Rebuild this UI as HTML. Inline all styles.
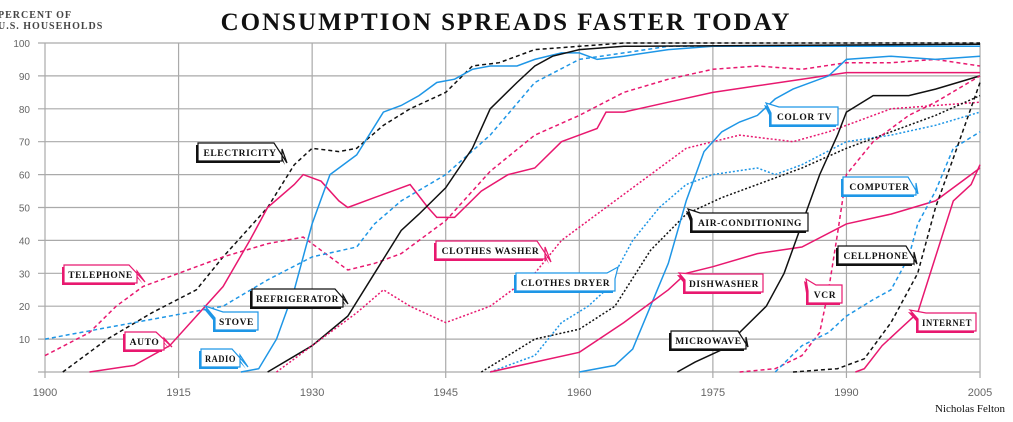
<!DOCTYPE html>
<html><head><meta charset="utf-8"><style>
html,body{margin:0;padding:0;background:#fff;width:1013px;height:422px;overflow:hidden}
svg text{font-family:"Liberation Serif",serif}
</style></head><body>
<svg id="s" width="1013" height="422" xmlns="http://www.w3.org/2000/svg">
<text x="506" y="30" text-anchor="middle" font-size="25" font-weight="bold" letter-spacing="2" fill="#111">CONSUMPTION SPREADS FASTER TODAY</text>
<text x="-2" y="18" font-size="10" font-weight="bold" fill="#444" letter-spacing="1">PERCENT OF</text>
<text x="-2" y="29" font-size="10" font-weight="bold" fill="#444" letter-spacing="1">U.S. HOUSEHOLDS</text>
<text x="1005" y="412" text-anchor="end" font-size="11" fill="#111">Nicholas Felton</text>
<g id="grid"></g><g id="ser"></g><g id="lab"></g>
</svg>
<script>
var NS="http://www.w3.org/2000/svg",s=document.getElementById('s');
function X(y){return 45+(y-1900)*8.905}function Y(v){return 372-v*3.29}
function el(t,a,p,txt){var e=document.createElementNS(NS,t);for(var k in a)e.setAttribute(k,a[k]);if(txt)e.textContent=txt;document.getElementById(p).appendChild(e);return e}
for(var v=0;v<=100;v+=10){el('line',{x1:38,x2:980,y1:Y(v),y2:Y(v),stroke:'#aaa','stroke-width':1.2},'grid');el('text',{x:30,y:Y(v)+4,'text-anchor':'end','font-size':10,fill:'#666',style:'font-family:Liberation Sans,sans-serif'},'grid',v)}
for(var y=1900;y<=2005;y+=15){el('line',{x1:X(y),x2:X(y),y1:43,y2:378,stroke:'#aaa','stroke-width':1.2},'grid');el('text',{x:X(y),y:396,'text-anchor':'middle','font-size':11,fill:'#666',style:'font-family:Liberation Sans,sans-serif'},'grid',y)}
var K='#111',B='#1e96e6',P='#e8186f';
var S=[
[K,'4 3',[1902,0,1907,10,1912,18,1917,25,1920,35,1925,50,1928,63,1930,68,1933,67,1935,68,1938,75,1941,80,1945,85,1948,93,1951,94,1955,98,1960,99,1965,100,2005,100]],
[P,'4 3',[1900,5,1905,12,1908,20,1911,26,1915,30,1920,35,1925,39,1929,41,1932,35,1934,31,1937,33,1940,36,1945,46,1950,61,1955,72,1960,78,1965,85,1970,89,1975,92,1980,93,1985,92,1990,94,1995,94,2000,95,2005,93]],
[B,'4 3',[1900,10,1910,15,1920,20,1925,28,1930,35,1935,38,1937,45,1940,52,1945,60,1950,72,1955,88,1960,95,1965,97,1970,99,2005,99]],
[P,'',[1905,0,1910,2,1914,8,1917,17,1920,26,1923,40,1925,50,1928,57,1929,60,1931,58,1933,52,1934,50,1937,53,1939,55,1941,57,1943,50,1944,47,1946,47,1949,55,1952,60,1955,62,1958,70,1960,72,1962,74,1963,79,1965,79,1970,82,1975,85,1980,87,1985,89,1990,91,2005,91]],
[B,'',[1922,0,1924,1,1926,10,1928,25,1930,45,1932,60,1935,66,1938,79,1940,81,1942,84,1944,88,1946,89,1948,92,1950,93,1953,93,1955,95,1958,97,1960,97,1962,95,1965,96,1970,98,1975,99,2005,99]],
[K,'',[1925,0,1930,8,1934,17,1937,30,1940,43,1942,48,1945,56,1948,68,1950,80,1953,88,1955,93,1957,96,1960,98,1965,99,2005,99.6]],
[P,'2 2',[1926,0,1930,8,1935,18,1938,25,1941,20,1945,15,1950,20,1955,30,1958,40,1963,50,1968,60,1972,68,1978,72,1984,70,1988,73,1991,76,1995,80,2005,82]],
[B,'2 2',[1950,0,1955,5,1958,15,1961,20,1963,25,1966,40,1969,50,1972,57,1975,60,1980,62,1982,60,1985,63,1990,70,1995,72,2000,75,2005,79]],
[K,'2 2',[1949,0,1952,5,1955,10,1960,13,1964,20,1968,37,1972,48,1976,53,1980,57,1985,62,1990,68,1995,73,2000,78,2005,84]],
[B,'',[1960,0,1964,2,1966,7,1968,20,1970,33,1972,52,1974,67,1976,73,1978,76,1980,78,1982,83,1984,86,1988,90,1990,95,1995,96,2000,95,2005,96]],
[P,'',[1950,0,1955,3,1960,6,1965,15,1970,25,1972,30,1975,32,1980,36,1985,38,1990,45,1995,48,2000,52,2005,62]],
[K,'',[1971,0,1973,3,1977,8,1978,12,1981,20,1983,30,1985,45,1987,60,1989,72,1990,79,1993,84,1997,84,2000,86,2005,90]],
[P,'4 3',[1978,0,1982,1,1985,5,1987,12,1988,25,1989,42,1990,60,1993,70,1997,78,2000,82,2005,90]],
[B,'4 3',[1982,0,1985,8,1988,12,1990,17,1993,22,1995,25,1997,35,1998,45,2000,55,2002,68,2005,73]],
[K,'4 3',[1984,0,1989,1,1992,4,1995,15,1998,30,2000,50,2002,65,2005,88]],
[P,'',[1991,0,1992,1,1994,8,1996,13,1998,18,2000,35,2002,52,2004,57,2005,63]]];
S.forEach(function(q){var d='';for(var i=0;i<q[2].length;i+=2)d+=(i?'L':'M')+X(q[2][i]).toFixed(1)+' '+Y(q[2][i+1]).toFixed(1);
el('path',{d:d,fill:'none',stroke:q[0],'stroke-width':1.5,'stroke-dasharray':q[1]},'ser')});
var L=[['ELECTRICITY',K,198,143,84,287,163],['TELEPHONE',P,64,265,73,145,282],['AUTO',P,125,332,39,172,347],['STOVE',B,215,312,43,205,306],['RADIO',B,201,349,39,248,367],['REFRIGERATOR',K,252,289,91,348,304],['CLOTHES WASHER',P,436,241,109,551,262],['CLOTHES DRYER',B,516,273,99,618,267],['AIR-CONDITIONING',K,692,213,116,688,209],['COLOR TV',B,771,107,67,766,103],['DISHWASHER',P,685,274,78,679,273],['MICROWAVE',K,671,331,75,748,347],['VCR',P,808,285,34,806,279],['COMPUTER',B,843,177,73,918,194],['CELLPHONE',K,838,246,76,917,264],['INTERNET',P,918,313,58,910,310]];
L.forEach(function(l){var x=l[2],y=l[3],w=l[4],h=18,px=l[5],py=l[6],c=l[1];
var left=px<x;var pts;
if(left){pts=[[x,y+6],[px,py],[x+8,y],[x+w,y],[x+w,y+h],[x,y+h]]}else{pts=[[x,y],[x+w-8,y],[px,py],[x+w,y+6],[x+w,y+h],[x,y+h]]}
var sp=pts.map(function(p){return (p[0]-2)+','+(p[1]+2)}).join(' ');
el('polygon',{points:sp,fill:c},'lab');
el('polygon',{points:pts.map(function(p){return p.join(',')}).join(' '),fill:'#fff',stroke:c,'stroke-width':1.2},'lab');
var t=el('text',{x:x+w/2,y:y+13,'text-anchor':'middle','font-size':9.5,'font-weight':'bold',fill:'#111','letter-spacing':0.6},'lab',l[0]);
var tw=t.getComputedTextLength();if(tw>w-8){t.setAttribute('textLength',w-8);t.setAttribute('lengthAdjust','spacingAndGlyphs')}});
</script>
</body></html>
